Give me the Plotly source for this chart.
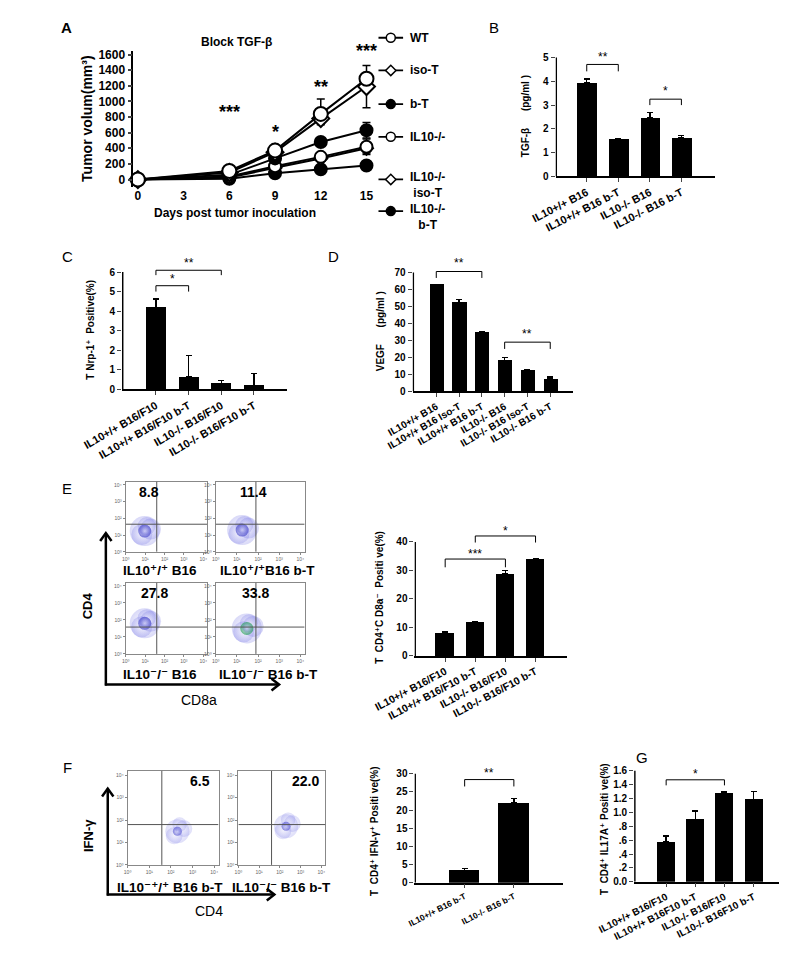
import plotly.graph_objects as go

W, H = 787, 957
FONT = "Liberation Sans, Arial, DejaVu Sans, sans-serif"


def X(p):
    return p / W


def Y(p):
    return 1 - p / H


# ---------------- data ----------------
# Panel A: tumour growth
days = [0, 6, 9, 12, 15]
a_wt = [0, 110, 370, 840, 1290]
a_wt_up = [0, 20, 50, 190, 170]
a_iso = [0, 90, 350, 780, 1190]
a_iso_dn = [0, 15, 40, 80, 270]
a_bt = [0, 60, 270, 480, 630]
a_bt_err = [0, 10, 30, 50, 100]
a_ko = [0, 40, 170, 290, 420]
a_ko_err = [0, 10, 20, 30, 100]
a_koiso = [0, 25, 150, 270, 400]
a_koiso_err = [0, 10, 20, 30, 60]
a_kobt = [0, 10, 80, 130, 180]
a_kobt_err = [0, 5, 20, 30, 60]
a_sig_days = [6, 9, 12, 15]
a_sig_text = ["***", "*", "**", "***"]
a_sig_y = [860, 610, 1190, 1650]
a_names = ["WT", "iso-T", "b-T", "IL10-/-", "IL10-/-<br>iso-T", "IL10-/-<br>b-T"]

# Panel B: TGF-beta
b_cats = ["IL10+/+ B16", "IL10+/+ B16 b-T", "IL10-/- B16", "IL10-/- B16 b-T"]
b_vals = [3.93, 1.58, 2.47, 1.65]
b_err = [0.17, 0.0, 0.22, 0.08]
b_sig = [(0, 1, 4.71, 4.42, "**", 5.04), (2, 3, 3.25, 3.0, "*", 3.58)]

# Panel C: Nrp-1
c_cats = ["IL10+/+ B16/F10", "IL10+/+ B16/F10 b-T", "IL10-/- B16/F10", "IL10-/- B16/F10 b-T"]
c_vals = [4.2, 0.63, 0.3, 0.21]
c_err = [0.42, 1.12, 0.17, 0.59]
c_sig = [(0, 2, 6.09, 5.84, "**", 6.45), (0, 1, 5.3, 5.0, "*", 5.62)]

# Panel D: VEGF
d_cats = ["IL10+/+ B16", "IL10+/+ B16 Iso-T", "IL10+/+ B16 b-T",
          "IL10-/- B16", "IL10-/- B16 Iso-T", "IL10-/- B16 b-T"]
d_vals = [62.9, 52.3, 34.8, 18.1, 12.3, 7.3]
d_err = [0.0, 1.7, 0.4, 2.0, 0.6, 1.1]
d_sig = [(0, 2, 70.6, 66.8, "**", 75.5), (3, 5, 29.0, 25.0, "**", 33.7)]

# Panel E: CD4+CD8a- bar chart
e_cats = ["IL10+/+ B16/F10", "IL10+/+ B16/F10 b-T", "IL10-/- B16/F10", "IL10-/- B16/F10 b-T"]
e_vals = [8.2, 11.9, 28.8, 34.0]
e_err = [0.4, 0.0, 1.1, 0.0]
e_sig = [(0, 2, 34.0, 31.1, "***", 35.8), (1, 3, 42.1, 39.8, "*", 43.9)]

# Panel F: CD4+ IFN-gamma+
f_cats = ["IL10+/+ B16 b-T", "IL10-/- B16 b-T"]
f_vals = [3.46, 22.0]
f_err = [0.45, 1.2]
f_sig = [(0, 1, 28.4, 26.5, "**", 30.2)]

# Panel G: CD4+ IL17A+
g_cats = ["IL10+/+ B16/F10", "IL10+/+ B16F10 b-T", "IL10-/- B16/F10", "IL10-/- B16F10 b-T"]
g_vals = [0.58, 0.90, 1.28, 1.19]
g_err = [0.08, 0.12, 0.02, 0.11]
g_sig = [(0, 2, 1.47, 1.39, "*", 1.55)]

# Flow cytometry plots: percentages and population centres (log10 decades)
e_flow_pct = ["8.8", "11.4", "27.8", "33.8"]
e_flow_names = ["IL10⁺/⁺ B16", "IL10⁺/⁺B16 b-T", "IL10⁻/⁻ B16", "IL10⁻/⁻ B16 b-T"]
e_flow_cx = [0.98, 1.25, 0.98, 1.47]
e_flow_cy = [1.24, 1.30, 1.80, 1.50]
f_flow_pct = ["6.5", "22.0"]
f_flow_names = ["IL10⁻⁺/⁺ B16 b-T", "IL10⁻/⁻ B16 b-T"]
f_flow_cx = [2.30, 2.30]
f_flow_cy = [1.50, 1.72]

# ---------------- layout helpers ----------------
layout = dict(width=W, height=H, margin=dict(l=0, r=0, t=0, b=0),
              paper_bgcolor="white", plot_bgcolor="rgba(0,0,0,0)",
              showlegend=False, font=dict(family=FONT, color="black"))
annotations = []
shapes = []
traces = []
axn = [0]


def new_axes(left, right, top, bottom, xr, yr, xopts=None, yopts=None):
    axn[0] += 1
    n = axn[0]
    sfx = "" if n == 1 else str(n)
    xid, yid = "x" + sfx, "y" + sfx
    xa = dict(domain=[X(left), X(right)], range=list(xr), anchor=yid, showgrid=False,
              zeroline=False, showline=False, ticks="", showticklabels=False)
    ya = dict(domain=[Y(bottom), Y(top)], range=list(yr), anchor=xid, showgrid=False,
              zeroline=False, showline=False, ticks="", showticklabels=False)
    if xopts:
        xa.update(xopts)
    if yopts:
        ya.update(yopts)
    layout["xaxis" + sfx] = xa
    layout["yaxis" + sfx] = ya
    return xid, yid


def text(px, py, s, size=12, bold=False, angle=0, xanchor="center", yanchor="middle", color="black"):
    annotations.append(dict(x=X(px), y=Y(py), xref="paper", yref="paper", text=s,
                            showarrow=False, textangle=angle, xanchor=xanchor, yanchor=yanchor,
                            font=dict(size=size, family=FONT, color=color,
                                      weight="bold" if bold else "normal")))


# ---------------- Panel A ----------------
xa, ya = new_axes(88, 344, 40, 178, (-0.3, 15.6), (-100, 1650),
                  xopts=dict(tickvals=[0, 3, 6, 9, 12, 15], showticklabels=True,
                             tickfont=dict(size=12, weight="bold")),
                  yopts=dict(tickvals=list(range(0, 1601, 200)), showticklabels=True,
                             showline=True, linewidth=1.5, linecolor="black", ticks="outside",
                             ticklen=4, tickwidth=1.5, tickfont=dict(size=12, weight="bold")))

a_series = [
    (a_kobt, a_kobt_err, a_kobt_err, "circle", 12, "black"),
    (a_koiso, a_koiso_err, a_koiso_err, "diamond", 10, "white"),
    (a_ko, a_ko_err, a_ko_err, "circle", 12, "white"),
    (a_bt, a_bt_err, a_bt_err, "circle", 12, "black"),
    (a_iso, [0] * 5, a_iso_dn, "diamond", 13, "white"),
    (a_wt, a_wt_up, [0] * 5, "circle", 14, "white"),
]
for vals, up, dn, sym, sz, fill in a_series:
    traces.append(go.Scatter(
        x=days, y=vals, mode="lines+markers", xaxis=xa, yaxis=ya, cliponaxis=False,
        line=dict(color="black", width=2),
        marker=dict(symbol=sym, size=sz, color=fill, line=dict(color="black", width=2)),
        error_y=dict(type="data", array=up, arrayminus=dn, color="black", thickness=1.5, width=4)))
for d, s, yv in zip(a_sig_days, a_sig_text, a_sig_y):
    annotations.append(dict(x=d, y=yv, xref=xa, yref=ya, text=s, showarrow=False,
                            font=dict(size=18, weight="bold", family=FONT)))

text(197, 31, "Block TGF-β", 12, True)
text(195, 204, "Days post tumor inoculation", 12, True)
text(39, 108, "Tumor volum(mm³)", 14, True, angle=-90)
text(17, 17, "A", 15, True)

# legend of panel A (drawn in a helper axis measured in pixels)
leg_rows = [27, 60, 94, 127, 170, 202]
leg_sym = [("circle", 9, "white"), ("diamond", 8, "white"), ("circle", 9, "black"),
           ("circle", 9, "white"), ("diamond", 8, "white"), ("circle", 9, "black")]
lx, ly = new_axes(340, 400, 10, 225, (340, 400), (225, 10))
for r, (sym, sz, fill), name in zip(leg_rows, leg_sym, a_names):
    traces.append(go.Scatter(x=[347, 373], y=[r, r], mode="lines", xaxis=lx, yaxis=ly,
                             line=dict(color="black", width=1.8), cliponaxis=False))
    traces.append(go.Scatter(x=[360], y=[r], mode="markers", xaxis=lx, yaxis=ly, cliponaxis=False,
                             marker=dict(symbol=sym, size=sz, color=fill,
                                         line=dict(color="black", width=1.5))))
    nlines = name.count("<br>")
    text(378, r + 6 * nlines, name, 12, True, xanchor="left")


# ---------------- bar panels ----------------
def bar_panel(cats, vals, errs, sig, left, right, y0px, ymax, ytop_px, xr, tickvals,
              ticktext, xfont, xangle=-27, xbold=True, yfont=10, star_size=12):
    ppu = (y0px - ytop_px) / ymax
    ext = max([ymax] + [s[5] for s in sig]) + 9 / ppu
    top_px = y0px - ext * ppu
    xid, yid = new_axes(left, right, top_px, y0px, xr, (0, ext),
                        xopts=dict(tickvals=list(range(len(cats))), ticktext=cats,
                                   showticklabels=True, tickangle=xangle, showline=True,
                                   linewidth=1.5, linecolor="black", ticks="outside",
                                   ticklen=4, tickwidth=1.2,
                                   tickfont=dict(size=xfont, weight="bold" if xbold else "normal")),
                        yopts=dict(tickvals=tickvals, ticktext=ticktext, showticklabels=True,
                                   ticks="outside", ticklen=4, tickwidth=1.2,
                                   tickfont=dict(size=yfont, weight="bold")))
    traces.append(go.Bar(x=list(range(len(cats))), y=vals, width=0.62, xaxis=xid, yaxis=yid,
                         marker=dict(color="black", line=dict(width=0)),
                         error_y=dict(type="data", array=errs, arrayminus=[0] * len(errs),
                                      color="black", thickness=1.3, width=3)))
    eps = 0.8 * (xr[1] - xr[0]) / (right - left)
    shapes.append(dict(type="line", xref=xid, yref=yid, x0=xr[0] + eps, x1=xr[0] + eps,
                       y0=0, y1=ymax, line=dict(color="black", width=1.5)))
    for i0, i1, top, leg, s, sy in sig:
        shapes.append(dict(type="path", xref=xid, yref=yid,
                           path=f"M{i0},{leg} L{i0},{top} L{i1},{top} L{i1},{leg}",
                           line=dict(color="black", width=1)))
        annotations.append(dict(x=(i0 + i1) / 2, y=sy, xref=xid, yref=yid, text=s,
                                showarrow=False, font=dict(size=star_size, family=FONT)))


bar_panel(b_cats, b_vals, b_err, b_sig, 534, 702, 167, 5, 47, (-0.99, 4.05),
          [0, 1, 2, 3, 4, 5], None, 11, xangle=-27)
text(502, 106, "TGF-β      (pg/ml )", 10, True, angle=-90)
text(469, 17, "B", 15)

bar_panel(c_cats, c_vals, c_err, c_sig, 76, 250, 382, 6, 263.5, (-1.04, 4.0),
          [0, 1, 2, 3, 4, 5, 6], None, 11, xangle=-30)
text(43, 322, "T Nrp-1⁺  Positive(%)", 10, True, angle=-90)
text(18, 248, "C", 15)

bar_panel(d_cats, d_vals, d_err, d_sig, 383, 553, 384, 70, 264, (-1.04, 6.02),
          [0, 10, 20, 30, 40, 50, 60, 70], None, 10, xangle=-30, xbold=True)
text(350, 323, "VEGF      (pg/ml )", 10, True, angle=-90)
text(300, 248, "D", 15)

bar_panel(e_cats, e_vals, e_err, e_sig, 385, 546, 651, 40, 536, (-1.02, 4.04),
          [0, 10, 20, 30, 40], None, 10.5, xangle=-28)
text(348, 592, "T  CD4⁺C D8a⁻  Positi ve(%)", 10, True, angle=-90)
text(18, 482, "E", 15)

bar_panel(f_cats, f_vals, f_err, f_sig, 385, 542, 880, 30, 770, (-1.02, 2.0),
          [0, 5, 10, 15, 20, 25, 30], None, 8.5, xangle=-27)
text(342, 828, "T  CD4⁺ IFN-γ⁺ Positi ve(%)", 10, True, angle=-90)
text(18, 764, "F", 15)

bar_panel(g_cats, g_vals, g_err, g_sig, 617, 775, 879, 1.6, 767, (-1.1, 4.03),
          [0, 0.2, 0.4, 0.6, 0.8, 1.0, 1.2, 1.4, 1.6],
          ["0.0", ".2", ".4", ".6", ".8", "1.0", "1.2", "1.4", "1.6"], 10, xangle=-27)
text(585, 826, "T  CD4⁺ IL17A⁺ Positi ve(%)", 10, True, angle=-90)
text(625, 754, "G", 15)


# ---------------- flow cytometry plots ----------------
def flow_plot(left, right, top, bottom, qx, qy, cx, cy, halo_rgb, core_rgb, halo=30, core=13):
    ax_opts = dict(showline=True, mirror=True, linecolor="#888", linewidth=1,
                   tickvals=[0, 1, 2, 3, 4], ticktext=["10⁰", "10¹", "10²", "10³", "10⁴"],
                   showticklabels=True, tickfont=dict(size=5, color="#666"),
                   ticks="outside", ticklen=2, tickcolor="#888")
    xid, yid = new_axes(left, right, top, bottom, (0, 4.2), (0, 4.2),
                        xopts=dict(ax_opts), yopts=dict(ax_opts))
    # population cloud: a few soft overlapping halos around the centre, plus a denser core
    traces.append(go.Scatter(x=[cx, cx + 0.3, cx - 0.15, cx + 0.1],
                             y=[cy, cy + 0.12, cy - 0.2, cy + 0.3],
                             mode="markers", xaxis=xid, yaxis=yid,
                             marker=dict(size=[halo, halo * 0.7, halo * 0.7, halo * 0.6],
                                         color=f"rgba({halo_rgb},0.35)",
                                         gradient=dict(type="radial", color=f"rgba({halo_rgb},0)"),
                                         line=dict(width=0))))
    traces.append(go.Scatter(x=[cx], y=[cy], mode="markers", xaxis=xid, yaxis=yid,
                             marker=dict(size=core, color=f"rgba({core_rgb},0.7)",
                                         gradient=dict(type="radial", color=f"rgba({core_rgb},0)"),
                                         line=dict(width=0))))
    shapes.append(dict(type="line", xref=xid, yref=yid, x0=qx, x1=qx, y0=0, y1=4.2,
                       line=dict(color="#555", width=1)))
    shapes.append(dict(type="line", xref=xid, yref=yid, x0=0, x1=4.2, y0=qy, y1=qy,
                       line=dict(color="#555", width=1)))
    return xid, yid


e_boxes = [(80, 166, 475, 546), (175, 269, 475, 546), (80, 166, 577, 649), (175, 269, 577, 649)]
e_q = [(1.6, 1.65), (1.9, 1.65), (1.6, 1.58), (1.9, 1.58)]
e_core = ["70,70,200", "70,70,200", "70,70,200", "40,160,90"]
e_pct_pos = [(105, 486), (215, 486), (110, 588), (217, 588)]
e_name_pos = [(116, 565), (230, 565), (116, 670), (231, 670)]
for box, q, cx, cy, cc, pct, pp, nm, npos in zip(e_boxes, e_q, e_flow_cx, e_flow_cy, e_core,
                                                   e_flow_pct, e_pct_pos, e_flow_names, e_name_pos):
    flow_plot(*box, q[0], q[1], cx, cy, "100,100,225", cc)
    text(pp[0], pp[1], pct, 14, True)
    text(npos[0], npos[1], nm, 13.5, True)

f_boxes = [(82, 178, 767, 862), (199, 291, 767, 862)]
f_q = [(1.58, 1.8), (1.6, 1.8)]
f_pct_pos = [(158, 777), (270, 777)]
f_name_pos = [(127, 885), (245, 885)]
for box, q, cx, cy, pct, pp, nm, npos in zip(f_boxes, f_q, f_flow_cx, f_flow_cy,
                                              f_flow_pct, f_pct_pos, f_flow_names, f_name_pos):
    flow_plot(*box, q[0], q[1], cx, cy, "120,120,230", "90,90,210", halo=24, core=9)
    text(pp[0], pp[1], pct, 14, True)
    text(npos[0], npos[1], nm, 13.5, True)


# axis arrows (open V heads), drawn as paper shapes
def arrow(tip, tail):
    shapes.append(dict(type="line", xref="paper", yref="paper", x0=X(tail[0]), y0=Y(tail[1]),
                       x1=X(tip[0]), y1=Y(tip[1]), line=dict(color="black", width=2.5)))
    if tip[0] == tail[0]:
        pts = [(tip[0] - 6, tip[1] + 8), tip, (tip[0] + 6, tip[1] + 8)]
    else:
        pts = [(tip[0] - 8, tip[1] - 6), tip, (tip[0] - 8, tip[1] + 6)]
    path = "M{},{} L{},{} L{},{}".format(X(pts[0][0]), Y(pts[0][1]), X(pts[1][0]), Y(pts[1][1]),
                                         X(pts[2][0]), Y(pts[2][1]))
    shapes.append(dict(type="path", xref="paper", yref="paper", path=path,
                       line=dict(color="black", width=2.5)))


arrow((59, 527), (59, 681))
arrow((242, 680), (58, 680))
arrow((61, 785), (61, 893))
arrow((237, 892), (60, 892))
text(157, 696, "CD8a", 14)
text(39, 600, "CD4", 13, True, angle=-90)
text(168, 909, "CD4", 14)
text(40, 832, "IFN-γ", 13, True, angle=-90)

layout["annotations"] = annotations
layout["shapes"] = shapes
fig = go.Figure(data=traces, layout=layout)
fig.update_layout(bargap=0)
fig.write_html("out.html")
